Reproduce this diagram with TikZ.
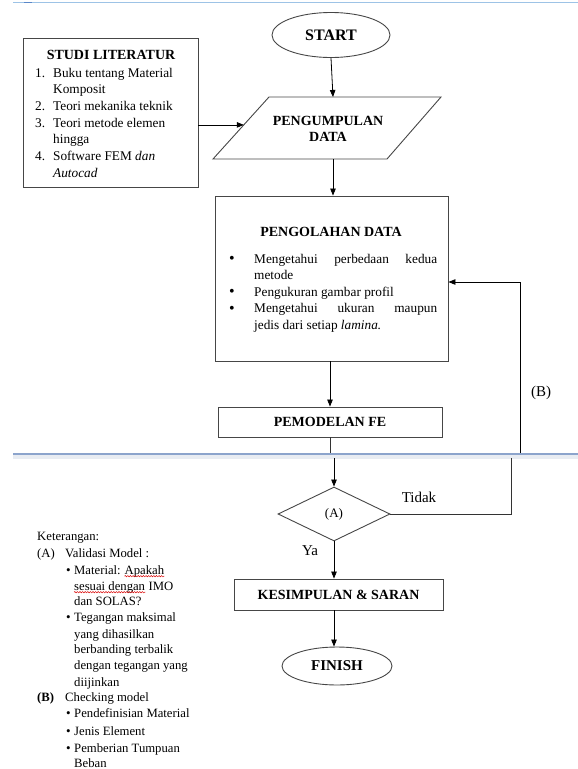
\documentclass[tikz,border=0pt]{standalone}
\usepackage{fontspec}
\setmainfont{Liberation Serif}
\usetikzlibrary{shapes.geometric,arrows.meta,calc,decorations.pathmorphing}
\definecolor{pagelineA}{RGB}{157,195,230}
\definecolor{pagelineAd}{RGB}{90,135,200}
\definecolor{pagelineB}{RGB}{140,164,204}
\definecolor{pageband}{RGB}{232,236,242}
\definecolor{edge}{RGB}{70,70,70}
\begin{document}
\begin{tikzpicture}[x=1pt,y=-1pt,
  shp/.style={draw=edge,line width=0.9pt,inner sep=0pt},
  arr/.style={draw=black,line width=0.8pt,-{Triangle[length=7pt,width=5.5pt]}},
  ln/.style={draw=black!80,line width=0.8pt},
  hd/.style={font=\fontsize{14}{16}\selectfont\bfseries,inner sep=0pt},
  bt/.style={font=\fontsize{13.3}{16}\selectfont,inner sep=0pt,anchor=base west},
  kt/.style={font=\fontsize{12.7}{15}\selectfont,inner sep=0pt,anchor=base west},
  bigdot/.style={font=\fontsize{16}{16}\selectfont,inner sep=0pt,anchor=base},
  smdot/.style={font=\fontsize{13}{13}\selectfont,inner sep=0pt,anchor=base west},
  lb/.style={font=\fontsize{15}{17}\selectfont,inner sep=0pt},
  squig/.style={draw=red!85!black,line width=0.45pt,decorate,decoration={snake,amplitude=0.7pt,segment length=2.6pt}}
]
\useasboundingbox (0,0) rectangle (578,769);

% page break lines
\draw[pagelineA,line width=1.3pt] (13,2.3) -- (578,2.3);
\draw[pagelineAd,line width=1.3pt] (24,2.3) -- (32,2.3);
\fill[pageband] (13,455) rectangle (578,458.5);
\draw[pagelineB,line width=1.4pt] (13,454) -- (578,454);

% START
\node[shp,ellipse,minimum width=118pt,minimum height=45pt,font=\fontsize{16}{18}\selectfont\bfseries] (st) at (331,35) {START};

% STUDI LITERATUR
\node[shp,rectangle,minimum width=175pt,minimum height=149pt] (studi) at (110.5,112.5) {};
\node[hd] (studit) at (111,55) {STUDI LITERATUR};
\node[bt] (s1n) at (35,77) {1.};
\node[bt] (s1a) at (53,77) {Buku tentang Material};
\node[bt] (s1b) at (53,93.7) {Komposit};
\node[bt] (s2n) at (35,110.4) {2.};
\node[bt] (s2a) at (53,110.4) {Teori mekanika teknik};
\node[bt] (s3n) at (35,127) {3.};
\node[bt] (s3a) at (53,127) {Teori metode elemen};
\node[bt] (s3b) at (53,143.8) {hingga};
\node[bt] (s4n) at (35,160.5) {4.};
\node[bt] (s4a) at (53,160.5) {Software FEM \textit{dan}};
\node[bt] (s4b) at (53,177.2) {\textit{Autocad}};

% PENGUMPULAN DATA (parallelogram)
\coordinate (pTL) at (269,97);
\coordinate (pTR) at (441,97);
\coordinate (pBR) at (387,159);
\coordinate (pBL) at (213,159);
\draw[draw=edge,line width=0.9pt] (pTL) -- (pTR) -- (pBR) -- (pBL) -- cycle;
\node[hd,align=center,font=\fontsize{14}{15.5}\selectfont\bfseries] (pdata) at (328,129) {PENGUMPULAN\\DATA};
\coordinate (ptop) at (333,97);
\coordinate (pbot) at (333,159);
\coordinate (pin) at ($(pTL)!0.45!(pBL)$);

% PENGOLAHAN DATA
\node[shp,rectangle,minimum width=233pt,minimum height=165pt] (pgl) at (331.5,278.5) {};
\node[hd] (pglt) at (331,232) {PENGOLAHAN DATA};
\node[bigdot] (b1) at (232,263.5) {\textbullet};
\node[bt] (l1) at (254,263) {\makebox[183pt][s]{Mengetahui perbedaan kedua}};
\node[bt] (l2) at (254,279.5) {metode};
\node[bigdot] (b2) at (232,296.5) {\textbullet};
\node[bt] (l3) at (254,296) {Pengukuran gambar profil};
\node[bigdot] (b3) at (232,313) {\textbullet};
\node[bt] (l4) at (254,312.5) {\makebox[183pt][s]{Mengetahui ukuran maupun}};
\node[bt] (l5) at (254,329) {jedis dari setiap \textit{lamina.}};

% PEMODELAN FE
\node[shp,rectangle,minimum width=224pt,minimum height=30pt,hd] (pem) at (330,422) {PEMODELAN FE};
\coordinate (brkA) at (330,453);
\coordinate (brkB) at (334,458);

% decision
\node[shp,diamond,minimum width=112pt,minimum height=54pt,font=\fontsize{13}{15}\selectfont] (dia) at (334,514) {(A)};
\coordinate (loopA) at (511,458);
\coordinate (loopB) at (520,453);
\coordinate (pglin) at ($(pgl.east)+(0,3.5)$);

% KESIMPULAN & SARAN
\node[shp,rectangle,minimum width=209pt,minimum height=31pt,hd] (kes) at (338.5,594.5) {KESIMPULAN \& SARAN};

% FINISH
\node[shp,ellipse,minimum width=110pt,minimum height=38pt,font=\fontsize{15}{17}\selectfont\bfseries] (fin) at (337,666) {FINISH};

% labels
\node[lb] (lbB) at (541,393) {(B)};
\node[lb] (lbT) at (419,497) {Tidak};
\node[lb] (lbY) at (310,551) {Ya};

% connectors
\draw[arr] (st.south) -- (ptop);
\draw[arr] (studi.east |- pin) -- (pin);
\draw[arr] (pbot) -- (pbot |- pgl.north);
\draw[arr] (pgl.south -| pem.north) -- (pem.north);
\draw[ln] (pem.south) -- (brkA);
\draw[arr] (brkB) -- (dia.north);
\draw[ln] (dia.east) -| (loopA);
\draw[arr] (loopB) |- (pglin);
\draw[arr] (dia.south) -- (dia.south |- kes.north);
\draw[arr] (dia.south |- kes.south) -- (dia.south |- fin.north);

% Keterangan
\node[kt] (k0) at (37,540) {Keterangan:};
\node[kt] (kAa) at (37,557) {(A)};
\node[kt] (kAb) at (65,557) {Validasi Model :};
\node[smdot] (kb1) at (66,574.5) {\textbullet};
\node[kt] (kA1a) at (74,574) {Material:};
\node[kt] (kA1b) at ($(kA1a.base east)+(3.5,0)$) {Apakah};
\node[kt] (kA2a) at (74,590) {sesuai dengan};
\node[kt] (kA2b) at ($(kA2a.base east)+(3.2,0)$) {IMO};
\node[kt] (kA3) at (74,605) {dan SOLAS?};
\node[smdot] (kb2) at (66,621.5) {\textbullet};
\node[kt] (kA4) at (74,621) {Tegangan maksimal};
\node[kt] (kA5) at (74,638) {yang dihasilkan};
\node[kt] (kA6) at (74,653) {berbanding terbalik};
\node[kt] (kA7) at (74,669) {dengan tegangan yang};
\node[kt] (kA8) at (74,686) {diijinkan};
\node[kt] (kBa) at (37,701) {\textbf{(B)}};
\node[kt] (kBb) at (65,701) {Checking model};
\node[smdot] (kb3) at (66,717.5) {\textbullet};
\node[kt] (kB1) at (74,717) {Pendefinisian Material};
\node[smdot] (kb4) at (66,735.5) {\textbullet};
\node[kt] (kB2) at (74,735) {Jenis Element};
\node[smdot] (kb5) at (66,752.5) {\textbullet};
\node[kt] (kB3) at (74,752) {Pemberian Tumpuan};
\node[kt] (kB4) at (74,767) {Beban};

\draw[squig] ($(kA1b.base west)+(0,2.2)$) -- ($(kA1b.base east)+(0,2.2)$);
\draw[squig] ($(kA2a.base west)+(0,2.2)$) -- ($(kA2a.base east)+(0,2.2)$);
\end{tikzpicture}
\end{document}
